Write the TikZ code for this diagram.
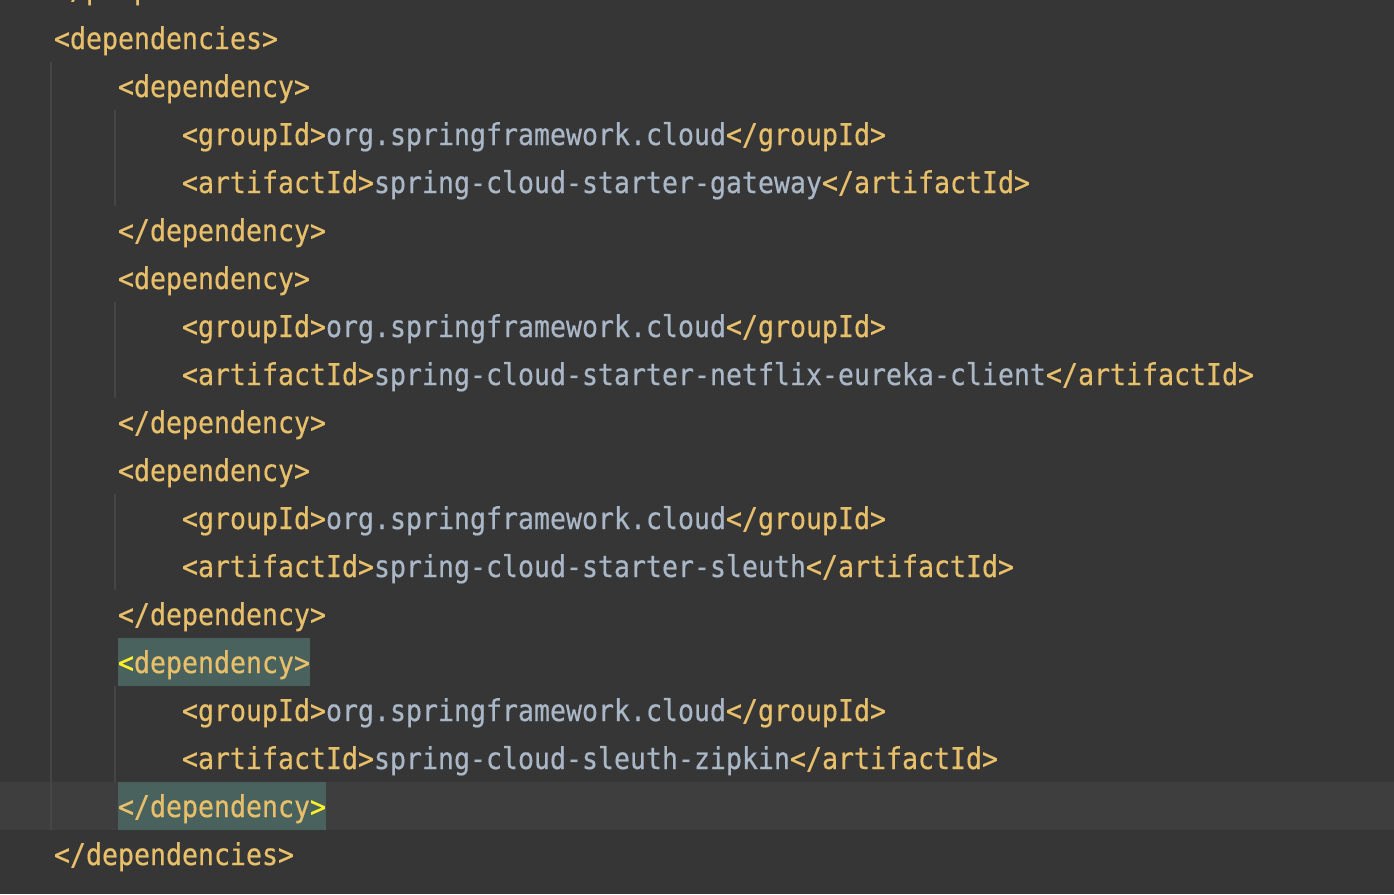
\documentclass[tikz,border=0pt]{standalone}
\usepackage{fontspec}
\usepackage{xcolor}
\newfontfamily\codefont[FakeStretch=0.8859,FakeBold=0.5]{DejaVu Sans Mono}
\definecolor{bgc}{HTML}{363636}
\definecolor{curline}{HTML}{3E3E3E}
\definecolor{guidec}{HTML}{464646}
\definecolor{matchbox}{HTML}{4A625D}
\definecolor{tagc}{HTML}{E8BF6A}
\definecolor{valc}{HTML}{A9B7C6}
\definecolor{bracec}{HTML}{FFEF28}
\newcommand\xtag[1]{\textcolor{tagc}{#1}}
\newcommand\xval[1]{\textcolor{valc}{#1}}
\newcommand\xbrace[1]{\textcolor{bracec}{#1}}
\tikzset{
  codeline/.style={anchor=base west, inner sep=0pt, outer sep=0pt,
    font=\codefont\fontsize{30}{48}\selectfont},
  guide/.style={draw=none, fill=guidec},
}
\begin{document}
\begin{tikzpicture}[x=1pt,y=-1pt]
\useasboundingbox (0,0) rectangle (1394,894);
\fill[bgc] (0,0) rectangle (1394,894);
% current line band
\fill[curline] (0,782) rectangle (1394,830);
% indent guides
\fill[guide] (50,62) rectangle (52,830);
\fill[guide] (114,110) rectangle (116,206);
\fill[guide] (114,302) rectangle (116,398);
\fill[guide] (114,494) rectangle (116,590);
\fill[guide] (114,686) rectangle (116,782);
% matched tag highlights
\fill[matchbox] (118,638) rectangle (310,686);
\fill[matchbox] (118,782) rectangle (326,830);
% code
\begin{scope}
\clip (0,0) rectangle (1394,894);
\node[codeline] (lm1) at (54,-1) {\xtag{</properties>}};
\end{scope}
\node[codeline] (l0) at (54,49) {\xtag{<dependencies>}};
\node[codeline] (l1) at (118,97) {\xtag{<dependency>}};
\node[codeline] (l2) at (182,145) {\xtag{<groupId>}\xval{org.springframework.cloud}\xtag{</groupId>}};
\node[codeline] (l3) at (182,193) {\xtag{<artifactId>}\xval{spring-cloud-starter-gateway}\xtag{</artifactId>}};
\node[codeline] (l4) at (118,241) {\xtag{</dependency>}};
\node[codeline] (l5) at (118,289) {\xtag{<dependency>}};
\node[codeline] (l6) at (182,337) {\xtag{<groupId>}\xval{org.springframework.cloud}\xtag{</groupId>}};
\node[codeline] (l7) at (182,385) {\xtag{<artifactId>}\xval{spring-cloud-starter-netflix-eureka-client}\xtag{</artifactId>}};
\node[codeline] (l8) at (118,433) {\xtag{</dependency>}};
\node[codeline] (l9) at (118,481) {\xtag{<dependency>}};
\node[codeline] (l10) at (182,529) {\xtag{<groupId>}\xval{org.springframework.cloud}\xtag{</groupId>}};
\node[codeline] (l11) at (182,577) {\xtag{<artifactId>}\xval{spring-cloud-starter-sleuth}\xtag{</artifactId>}};
\node[codeline] (l12) at (118,625) {\xtag{</dependency>}};
\node[codeline] (l13) at (118,673) {\xbrace{<}\xtag{dependency>}};
\node[codeline] (l14) at (182,721) {\xtag{<groupId>}\xval{org.springframework.cloud}\xtag{</groupId>}};
\node[codeline] (l15) at (182,769) {\xtag{<artifactId>}\xval{spring-cloud-sleuth-zipkin}\xtag{</artifactId>}};
\node[codeline] (l16) at (118,817) {\xtag{</dependency}\xbrace{>}};
\node[codeline] (l17) at (54,865) {\xtag{</dependencies>}};
\end{tikzpicture}
\end{document}
